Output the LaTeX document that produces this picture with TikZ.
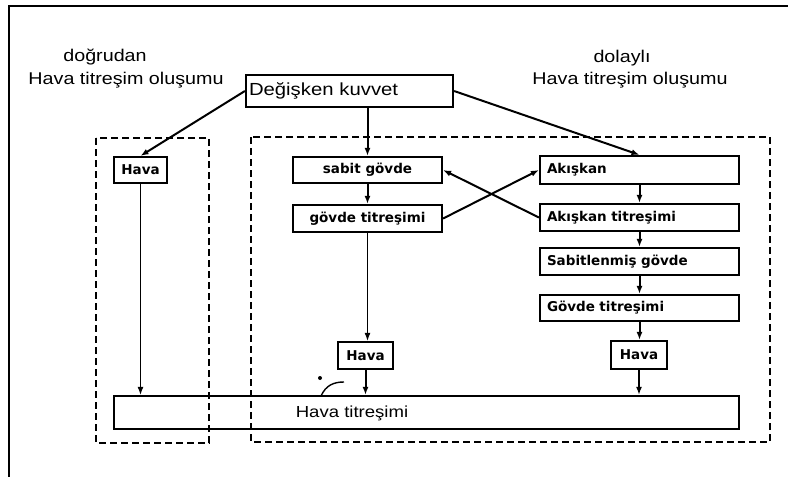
\documentclass[tikz,border=0pt]{standalone}
\usepackage{fontspec}
\setmainfont{Liberation Sans}
\newfontfamily\labfont[FakeStretch=1.16]{Liberation Sans}
\newfontfamily\boxfont{DejaVu Sans}
\usetikzlibrary{arrows.meta}
\begin{document}
\begin{tikzpicture}[x=1pt,y=-1pt,
  box/.style={draw, line width=2.2pt, inner sep=0pt, font=\boxfont\bfseries\fontsize{13.5}{16}\selectfont},
  rbox/.style={box, text width=185pt, inner xsep=7pt, align=left, minimum height=27pt},
  conn/.style={line width=2pt, -{Latex[length=8pt,width=6pt]}},
  thinconn/.style={line width=1.3pt, -{Latex[length=8pt,width=6pt]}},
  frame/.style={line width=1.5pt, dash pattern=on 7pt off 4pt},
  big/.style={font=\labfont\fontsize{17}{20}\selectfont}
]
\useasboundingbox (0,0) rectangle (788,477);
\fill[white] (0,0) rectangle (788,477);
% outer frame
\draw[line width=1.5pt] (9,477) -- (9,6) -- (788,6);
% dashed groups
\draw[frame] (96,138) rectangle (209,443);
\draw[frame] (251,137) rectangle (770,442);
% headings
\node[big, anchor=base] (l1) at (105,61) {doğrudan};
\node[big, anchor=base] (l2) at (126,84) {Hava titreşim oluşumu};
\node[big, anchor=base] (r1) at (622,62) {dolaylı};
\node[big, anchor=base] (r2) at (630,84) {Hava titreşim oluşumu};
% boxes
\node[box, text width=201pt, inner xsep=3pt, align=left, minimum height=32pt,
      font=\labfont\fontsize{17.5}{20}\selectfont] (dk) at (349.5,91) {Değişken kuvvet};
\node[box, minimum width=53pt, minimum height=26pt] (hl) at (140.5,170) {Hava};
\node[box, minimum width=149pt, minimum height=26pt] (sg) at (367.5,170) {sabit gövde};
\node[box, minimum width=149pt, minimum height=27pt] (gt) at (367.5,218.5) {gövde titreşimi};
\node[rbox, minimum height=28pt] (ak) at (639.5,170) {Akışkan};
\node[rbox] (akt) at (639.5,217.5) {Akışkan titreşimi};
\node[rbox] (sab) at (639.5,261.5) {Sabitlenmiş gövde};
\node[rbox, minimum height=26pt] (gov) at (639.5,308) {Gövde titreşimi};
\node[box, minimum width=56pt, minimum height=28pt] (hr) at (639,355) {Hava};
\node[box, minimum width=55pt, minimum height=27pt] (hm) at (365.5,355.5) {Hava};
\node[box, minimum width=625pt, minimum height=33pt] (hv) at (426.5,412.5) {};
\node[font=\labfont\fontsize{16}{19}\selectfont] (hvt) at (352,413) {Hava titreşimi};
% connectors
\draw[conn] (dk.west) -- (hl.north);
\draw[conn] (dk.east) -- (ak.north);
\draw[conn] (dk.south -| sg.north) -- (sg.north);
\draw[conn] (sg.south) -- (gt.north);
\draw[conn] (gt.east) -- (ak.west);
\draw[conn] (akt.west) -- (sg.east);
\draw[conn] (ak.south) -- (akt.north);
\draw[conn] (akt.south) -- (sab.north);
\draw[conn] (sab.south) -- (gov.north);
\draw[conn] (gov.south) -- (gov.south |- hr.north);
\draw[conn] (hr.south) -- (hr.south |- hv.north);
\draw[thinconn] (gt.south) -- (gt.south |- hm.north);
\draw[conn] (hm.south) -- (hm.south |- hv.north);
\draw[thinconn] (hl.south) -- (hl.south |- hv.north);
% small mark near the air-vibration box
\draw[line width=1.4pt] (321,396) .. controls (326,385) and (334,382) .. (344,382);
\fill (320,378) circle (2pt);
\end{tikzpicture}
\end{document}
